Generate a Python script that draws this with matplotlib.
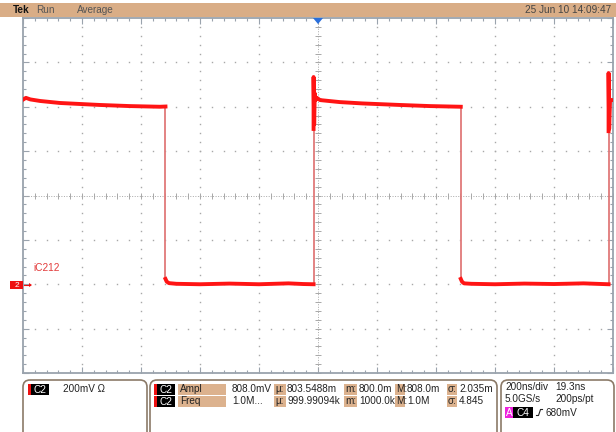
import matplotlib.pyplot as plt
import numpy as np
from matplotlib.patches import Rectangle, FancyBboxPatch, Polygon

plt.rcParams['font.family'] = ['Liberation Sans', 'DejaVu Sans']

# scope settings
ns_per_div = 200
volts_per_div = 0.2
ground_div = -2.0

# waveform: time (ns, trigger at 0), voltage (V)
high1_t = [-1000, -990, -975, -942, -875, -800, -739, -637, -536, -517]
high1_v = [0.832, 0.840, 0.833, 0.826, 0.817, 0.812, 0.808, 0.803, 0.800, 0.801]
low1_t = [-517, -513, -505, -480, -400, -300, -200, -100, -50, -15]
low1_v = [0.024, 0.012, 0.005, 0.002, 0.000, 0.003, 0.000, 0.004, 0.001, 0.000]
high2_t = [-15, -15, -13, -11, -8, -4, 7, 74, 150, 278, 380, 484]
high2_v = [0.70, 0.934, 0.72, 0.86, 0.83, 0.84, 0.830, 0.821, 0.815, 0.808, 0.803, 0.800]
low2_t = [484, 488, 495, 520, 600, 700, 800, 900, 985]
low2_v = [0.024, 0.012, 0.004, 0.002, 0.000, 0.003, 0.001, 0.004, 0.000]
high3_t = [985, 985, 987, 990, 1000]
high3_v = [0.69, 0.952, 0.70, 0.83, 0.83]

header_left = [('Tek', 13, 'bold'), ('Run', 36, 'normal'), ('Average', 77, 'normal')]
header_date = '25 Jun 10 14:09:47'

meas_rows = [
    ('Ampl', '808.0mV', '803.5488m', '800.0m', '808.0m', '2.035m'),
    ('Freq', '1.0M...', '999.99094k', '1000.0k', '1.0M', '4.845'),
]

W, H = 616, 432
fig = plt.figure(figsize=(W / 100, H / 100), dpi=100)
fig.patch.set_facecolor('white')

# graticule
ax = fig.add_axes([23 / W, (H - 373) / H, 590 / W, 355 / H])
xmin, xmax = -5 * ns_per_div, 5 * ns_per_div
ymin = (-4 - ground_div) * volts_per_div
ymax = (4 - ground_div) * volts_per_div
vcen = (0 - ground_div) * volts_per_div
ax.set_xlim(xmin, xmax)
ax.set_ylim(ymin, ymax)

gcol = '#a8a8a8'
xs_fine = np.linspace(xmin, xmax, 51)
ys_fine = np.linspace(ymin, ymax, 41)
for k in range(1, 10):
    if k == 5:
        continue
    t = xmin + k * ns_per_div
    ax.plot(np.full_like(ys_fine, t), ys_fine, ls='none', marker='s', ms=1.0, mew=0, color=gcol)
for m in range(1, 8):
    if m == 4:
        continue
    v = ymin + m * volts_per_div
    ax.plot(xs_fine, np.full_like(xs_fine, v), ls='none', marker='s', ms=1.0, mew=0, color=gcol)
# center cross
ax.plot([0, 0], [ymin, ymax], ls=(0, (1, 1.6)), lw=0.7, color=gcol)
ax.plot([xmin, xmax], [vcen, vcen], ls=(0, (1, 1.6)), lw=0.7, color=gcol)
ax.plot(np.zeros_like(ys_fine), ys_fine, ls='none', marker='_', ms=5, mew=0.7, color=gcol)
ax.plot(xs_fine, np.full_like(xs_fine, vcen), ls='none', marker='|', ms=5, mew=0.7, color=gcol)

ax.set_xticks(np.arange(xmin, xmax + 1, ns_per_div))
ax.set_xticks(xs_fine, minor=True)
ax.set_yticks(np.arange(ymin, ymax + 0.01, volts_per_div))
ax.set_yticks(ys_fine, minor=True)
ax.tick_params(which='both', direction='in', top=True, right=True,
               labelbottom=False, labelleft=False, color='#9aa3ad', width=0.8)
ax.tick_params(which='major', length=4)
ax.tick_params(which='minor', length=2.5)
for s in ax.spines.values():
    s.set_color('#9aa3ad')
    s.set_linewidth(1.3)

# waveform: pale fast edges, bright levels
segs = [(high1_t, high1_v), (low1_t, low1_v), (high2_t, high2_v), (low2_t, low2_v), (high3_t, high3_v)]
for (ta, va), (tb, vb) in zip(segs[:-1], segs[1:]):
    ax.plot([ta[-1], tb[0]], [va[-1], vb[0]], color='#e07a7a', lw=1.3, zorder=3)
for t, v in segs:
    ax.plot(t, v, color='#ff1414', lw=2.8, solid_joinstyle='round', zorder=4)

# overlay in pixel coordinates
ov = fig.add_axes([0, 0, 1, 1])
ov.set_xlim(0, W)
ov.set_ylim(H, 0)
ov.axis('off')
ov.patch.set_visible(False)

fs = 7.2
tan = '#dcb28e'
ink = '#222222'
ov.add_patch(Rectangle((0, 3), W, 14, color='#d9ad86', lw=0))
for txt, x, wt in header_left:
    ov.text(x, 10, txt, fontsize=fs, fontweight=wt, va='center',
            color='#111111' if wt == 'bold' else '#555555')
ov.text(611, 10, header_date, fontsize=fs, va='center', ha='right', color='#444444')

# trigger position marker
ov.add_patch(Polygon([(313, 18), (323, 18), (318, 24)], color='#2a6fdb', lw=0))

# channel 2 ground marker and label
ov.add_patch(Rectangle((10, 281), 13, 8, color='#ee1111', lw=0))
ov.text(16.5, 285.3, '2', fontsize=6, color='white', ha='center', va='center')
ov.plot([24, 30], [285, 285], color='#ee1111', lw=0.8)
ov.add_patch(Polygon([(29, 283), (32, 285), (29, 287)], color='#ee1111', lw=0))
ov.text(33, 268, 'iC212', fontsize=fs, color='#e23a3a', va='center')

# bottom panels
for x0, x1 in [(23, 147), (150, 497), (501, 614)]:
    ov.add_patch(FancyBboxPatch((x0, 380), x1 - x0, 70, boxstyle='round,pad=0,rounding_size=7',
                                fc='none', ec='#8b7a68', lw=1.2))


def chan_tag(x, y0, label):
    ov.add_patch(Rectangle((x, y0), 3, 11, color='#ee1111', lw=0))
    ov.add_patch(Rectangle((x + 3, y0), 18, 11, color='black', lw=0))
    ov.text(x + 12, y0 + 5.7, label, fontsize=fs, color='white', ha='center', va='center')


chan_tag(28, 384, 'C2')
ov.text(63, 389, '200mV \u03a9', fontsize=fs, va='center', color=ink)

for i, (name, val, mu, mn, mx, sd) in enumerate(meas_rows):
    y0 = 384 + i * 12
    yc = y0 + 5.5
    chan_tag(154, y0, 'C2')
    ov.add_patch(Rectangle((178, y0), 48, 11, color=tan, lw=0))
    ov.text(180, yc, name, fontsize=fs, va='center', color=ink)
    ov.text(232, yc, val, fontsize=fs, va='center', color=ink)
    for bx, bw, lab, vx, vtxt in [(274, 12, '\u00b5:', 287, mu), (344, 13, 'm:', 359, mn),
                                  (395, 10, 'M:', 407, mx), (447, 10, '\u03c3:', 459, sd)]:
        ov.add_patch(Rectangle((bx, y0), bw, 11, color=tan, lw=0))
        ov.text(bx + 1, yc, lab, fontsize=fs, va='center', color=ink)
        ov.text(vx, yc, vtxt, fontsize=fs, va='center', color=ink)

ov.text(505, 387, '200ns/div', fontsize=fs, va='center', color=ink)
ov.text(555, 387, '19.3ns', fontsize=fs, va='center', color=ink)
ov.text(505, 399, '5.0GS/s', fontsize=fs, va='center', color=ink)
ov.text(555, 399, '200ps/pt', fontsize=fs, va='center', color=ink)
ov.add_patch(Rectangle((505, 407), 8, 11, color='#ee22dd', lw=0))
ov.text(509, 412.5, 'A', fontsize=fs, color='white', ha='center', va='center')
ov.add_patch(Rectangle((513, 407), 20, 11, color='black', lw=0))
ov.text(523, 412.5, 'C4', fontsize=fs, color='white', ha='center', va='center')
ov.plot([536.5, 538.5, 540.5, 542.5], [415.5, 415.5, 409.5, 409.5], color=ink, lw=0.8)
ov.text(546, 412.5, '680mV', fontsize=fs, va='center', color=ink)

fig.savefig('out.png', dpi=100)
